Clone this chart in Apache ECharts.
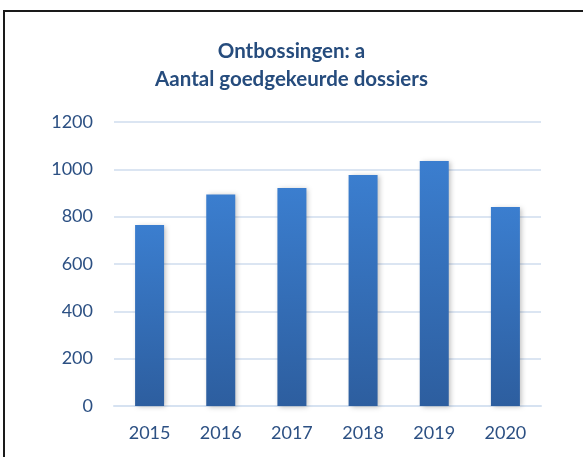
<!DOCTYPE html>
<html>
<head>
<meta charset="utf-8">
<script src="https://cdn.jsdelivr.net/npm/echarts@6/dist/echarts.min.js"></script>
<style>
    html, body { margin: 0; padding: 0; background: #fff; }
    #chart { width: 583px; height: 457px; }
</style>
</head>
<body>
<div id="chart"></div>
<script>
// 数据
const years = ['2015', '2016', '2017', '2018', '2019', '2020'];
const dossiers = [765, 894, 921, 976, 1035, 841];
const yTicks = [0, 200, 400, 600, 800, 1000, 1200];

const textColor = '#2c5083';
const chart = echarts.init(document.getElementById('chart'));

const option = {
    animation: false,
    // 外框
    graphic: [{
        type: 'rect',
        shape: { x: 4, y: 11, width: 700, height: 600 },
        style: { fill: 'none', stroke: '#1a1a1a', lineWidth: 2 },
        silent: true
    }],
    title: {
        text: 'Ontbossingen: a\nAantal goedgekeurde dossiers',
        left: 'center',
        top: 32,
        textStyle: {
            fontFamily: 'Lato',
            fontSize: 20.5,
            fontWeight: 'bold',
            color: '#264c7d',
            lineHeight: 28
        }
    },
    grid: { left: 114, right: 42, top: 122, bottom: 51 },
    xAxis: {
        type: 'category',
        data: years,
        axisLine: { lineStyle: { color: '#d6e2f1', width: 2 } },
        axisTick: { show: false },
        axisLabel: { color: textColor, fontFamily: 'Lato', fontSize: 18, margin: 18 }
    },
    yAxis: {
        type: 'value',
        min: yTicks[0],
        max: yTicks[yTicks.length - 1],
        interval: 200,
        axisLine: { show: false },
        axisTick: { show: false },
        axisLabel: {
            color: textColor, fontFamily: 'Lato', fontSize: 18, margin: 21,
            formatter: v => String(v)
        },
        splitLine: { lineStyle: { color: '#dbe5f2', width: 2 } }
    },
    series: [{
        type: 'bar',
        data: dossiers,
        barWidth: 29,
        itemStyle: {
            color: new echarts.graphic.LinearGradient(0, 0, 0, 1, [
                { offset: 0, color: '#3b7ecf' },
                { offset: 1, color: '#2d5e9f' }
            ]),
            shadowColor: 'rgba(0,0,0,0.25)',
            shadowBlur: 5,
            shadowOffsetX: 2,
            shadowOffsetY: 1
        }
    }]
};
chart.setOption(option);
</script>
</body>
</html>
